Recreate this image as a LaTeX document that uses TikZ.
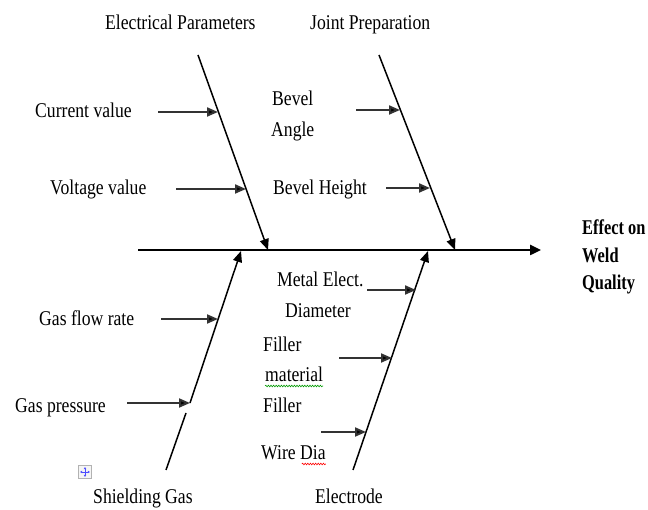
\documentclass[tikz,border=0pt]{standalone}
\usepackage{fontspec}
\setmainfont{Liberation Serif}[FakeStretch=0.84]
\newfontfamily\effectfont{Liberation Serif}[FakeStretch=0.78]
\usetikzlibrary{arrows.meta,decorations.pathmorphing}
\tikzset{
  lbl/.style={anchor=base west,inner sep=0pt,font=\fontsize{21}{25}\selectfont},
  effect/.style={anchor=base west,inner sep=0pt,font=\fontsize{21}{25}\effectfont\bfseries},
  bone/.style={line width=1.5pt,-{Triangle[length=11pt,width=9pt]}},
  cause/.style={line width=2pt,draw=black!80,-{Triangle[length=11pt,width=9pt,fill=black]}},
  spine/.style={line width=2.4pt,-{Triangle[length=11pt,width=10pt]}},
  plain/.style={line width=1.5pt},
  squig/.style={line width=0.6pt,decorate,decoration={snake,amplitude=0.8pt,segment length=2.6pt}}
}
\begin{document}
\begin{tikzpicture}[x=1pt,y=-1pt]
\useasboundingbox (0,0) rectangle (648,510);
% spine
\coordinate (s0) at (138,250);
\coordinate (s1) at (541,250);
\draw[spine] (s0) -- (s1);
% bones
\coordinate (eTop) at (198,55);  \coordinate (eEnd) at (268,250);
\coordinate (jTop) at (379,55);  \coordinate (jEnd) at (455,250);
\coordinate (gBot) at (166,470); \coordinate (gMid) at (186,413);
\coordinate (gKnee) at (190,403); \coordinate (gEnd) at (241,251);
\coordinate (lBot) at (353,470); \coordinate (lEnd) at (428,251);
\draw[bone] (eTop) -- (eEnd);
\draw[bone] (jTop) -- (jEnd);
\draw[plain] (gBot) -- (gMid);
\draw[bone] (gKnee) -- (gEnd);
\draw[bone] (lBot) -- (lEnd);
% cause arrows
\coordinate (c1a) at (158,112); \coordinate (c1b) at (218,112);
\coordinate (c2a) at (176,189); \coordinate (c2b) at (246,189);
\coordinate (c3a) at (356,110); \coordinate (c3b) at (400,110);
\coordinate (c4a) at (386,188); \coordinate (c4b) at (430,188);
\coordinate (c5a) at (161,319); \coordinate (c5b) at (218,319);
\coordinate (c6a) at (127,403); \coordinate (c6b) at (gKnee);
\coordinate (c7a) at (367,290); \coordinate (c7b) at (416,290);
\coordinate (c8a) at (339,358); \coordinate (c8b) at (392,358);
\coordinate (c9a) at (321,432); \coordinate (c9b) at (366,432);
\foreach \i in {1,...,9} {\draw[cause] (c\i a) -- (c\i b);}
% labels
\node[lbl] (tElec) at (105,30) {Electrical Parameters};
\node[lbl] (tJoint) at (310,30) {Joint Preparation};
\node[lbl] (tCur) at (35,118) {Current value};
\node[lbl] (tVolt) at (50,195) {Voltage value};
\node[lbl] (tBev1) at (272,106) {Bevel};
\node[lbl] (tBev2) at (271,137) {Angle};
\node[lbl] (tBevH) at (273,195) {Bevel Height};
\node[effect] (tEff1) at (582,235) {Effect on};
\node[effect] (tEff2) at (582,263) {Weld};
\node[effect] (tEff3) at (582,290) {Quality};
\node[lbl] (tFlow) at (39,326) {Gas flow rate};
\node[lbl] (tPres) at (15,413) {Gas pressure};
\node[lbl] (tShield) at (93,503) {Shielding Gas};
\node[lbl] (tMetal) at (277,287) {Metal Elect.};
\node[lbl] (tDiam) at (285,318) {Diameter};
\node[lbl] (tFill1) at (263,352) {Filler};
\node[lbl] (tMat) at (265,382) {material};
\node[lbl] (tFill2) at (263,413) {Filler};
\node[lbl] (tWire) at (261,460) {Wire Dia};
\node[lbl] (tElectrode) at (315,503) {Electrode};
% spelling squiggles
\draw[squig,green!60!black] (tMat.base west) ++(0,4) -- ++(58,0);
\draw[squig,red] (tWire.base east) ++(-24,4) -- ++(24,0);
% move handle icon
\node[draw=gray!60,fill=gray!8,minimum size=13pt,inner sep=0pt] (icon) at (85,472) {};
\draw[blue!70,line width=0.7pt,{Latex[length=2.2pt,width=3pt]}-{Latex[length=2.2pt,width=3pt]}] (80,472) -- (90,472);
\draw[blue!70,line width=0.7pt,{Latex[length=2.2pt,width=3pt]}-{Latex[length=2.2pt,width=3pt]}] (85,467) -- (85,477);
\end{tikzpicture}
\end{document}
